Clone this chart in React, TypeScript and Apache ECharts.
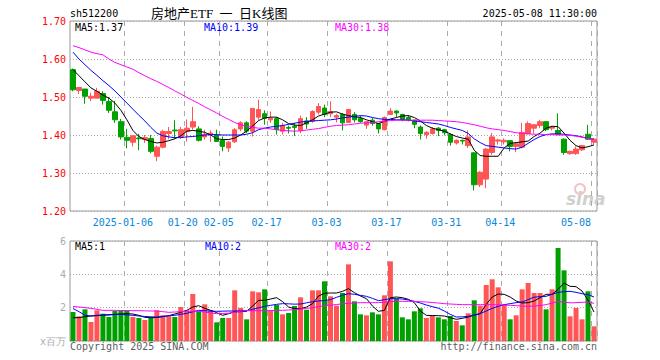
import React, { useEffect, useRef } from "react";
import * as echarts from "echarts";

const dates = [
  "2024-12-23", "2024-12-24", "2024-12-25", "2024-12-26", "2024-12-27", "2024-12-30", "2024-12-31", "2025-01-02", "2025-01-03",
  "2025-01-06", "2025-01-07", "2025-01-08", "2025-01-09", "2025-01-10",
  "2025-01-13", "2025-01-14", "2025-01-15", "2025-01-16", "2025-01-17",
  "2025-01-20", "2025-01-21", "2025-01-22", "2025-01-23", "2025-01-24", "2025-01-27",
  "2025-02-05", "2025-02-06", "2025-02-07",
  "2025-02-10", "2025-02-11", "2025-02-12", "2025-02-13", "2025-02-14",
  "2025-02-17", "2025-02-18", "2025-02-19", "2025-02-20", "2025-02-21",
  "2025-02-24", "2025-02-25", "2025-02-26", "2025-02-27", "2025-02-28",
  "2025-03-03", "2025-03-04", "2025-03-05", "2025-03-06", "2025-03-07",
  "2025-03-10", "2025-03-11", "2025-03-12", "2025-03-13", "2025-03-14",
  "2025-03-17", "2025-03-18", "2025-03-19", "2025-03-20", "2025-03-21",
  "2025-03-24", "2025-03-25", "2025-03-26", "2025-03-27", "2025-03-28",
  "2025-03-31", "2025-04-01", "2025-04-02", "2025-04-03",
  "2025-04-07", "2025-04-08", "2025-04-09", "2025-04-10", "2025-04-11",
  "2025-04-14", "2025-04-15", "2025-04-16", "2025-04-17", "2025-04-18",
  "2025-04-21", "2025-04-22", "2025-04-23", "2025-04-24", "2025-04-25",
  "2025-04-28", "2025-04-29", "2025-04-30",
  "2025-05-06", "2025-05-07", "2025-05-08",
];

const tickDates = ["2025-01-06", "2025-01-20", "2025-02-05", "2025-02-17", "2025-03-03", "2025-03-17", "2025-03-31", "2025-04-14", "2025-05-08"];

const openP = [
  1.572, 1.517, 1.521, 1.497, 1.497, 1.509, 1.488, 1.461, 1.435, 1.394,
  1.381, 1.392, 1.388, 1.391, 1.344, 1.368, 1.404, 1.413, 1.396, 1.410,
  1.421, 1.416, 1.395, 1.400, 1.400, 1.386, 1.366, 1.382, 1.416, 1.432,
  1.410, 1.447, 1.456, 1.440, 1.443, 1.410, 1.420, 1.423, 1.412, 1.437,
  1.436, 1.460, 1.471, 1.456, 1.447, 1.454, 1.433, 1.454, 1.443, 1.426,
  1.439, 1.430, 1.414, 1.454, 1.463, 1.454, 1.446, 1.439, 1.421, 1.401,
  1.404, 1.418, 1.414, 1.401, 1.379, 1.386, 1.372, 1.353, 1.269, 1.284,
  1.354, 1.384, 1.382, 1.385, 1.370, 1.368, 1.404, 1.418, 1.425, 1.435,
  1.418, 1.412, 1.389, 1.351, 1.351, 1.361, 1.402, 1.381,
];
const closeP = [
  1.519, 1.525, 1.502, 1.502, 1.515, 1.491, 1.465, 1.440, 1.395, 1.386,
  1.398, 1.390, 1.393, 1.357, 1.368, 1.409, 1.409, 1.411, 1.414, 1.418,
  1.435, 1.386, 1.402, 1.405, 1.383, 1.370, 1.381, 1.414, 1.432, 1.410,
  1.470, 1.467, 1.444, 1.444, 1.414, 1.425, 1.418, 1.420, 1.443, 1.429,
  1.462, 1.475, 1.454, 1.462, 1.451, 1.432, 1.467, 1.440, 1.435, 1.435,
  1.430, 1.416, 1.446, 1.463, 1.458, 1.440, 1.440, 1.428, 1.404, 1.407,
  1.416, 1.412, 1.406, 1.381, 1.386, 1.384, 1.395, 1.269, 1.302, 1.363,
  1.395, 1.387, 1.386, 1.370, 1.377, 1.407, 1.430, 1.427, 1.435, 1.414,
  1.421, 1.402, 1.354, 1.357, 1.363, 1.372, 1.389, 1.389,
];
const lowP = [
  1.515, 1.508, 1.482, 1.489, 1.497, 1.480, 1.458, 1.432, 1.388, 1.365,
  1.370, 1.360, 1.379, 1.352, 1.331, 1.365, 1.389, 1.390, 1.390, 1.383,
  1.414, 1.383, 1.388, 1.382, 1.382, 1.357, 1.355, 1.379, 1.410, 1.405,
  1.396, 1.440, 1.427, 1.432, 1.401, 1.401, 1.404, 1.397, 1.405, 1.416,
  1.432, 1.454, 1.447, 1.447, 1.433, 1.412, 1.432, 1.433, 1.432, 1.416,
  1.425, 1.404, 1.412, 1.452, 1.447, 1.436, 1.436, 1.418, 1.388, 1.390,
  1.401, 1.397, 1.399, 1.372, 1.375, 1.375, 1.366, 1.254, 1.263, 1.260,
  1.348, 1.375, 1.375, 1.357, 1.355, 1.365, 1.401, 1.404, 1.418, 1.410,
  1.412, 1.400, 1.348, 1.348, 1.348, 1.358, 1.387, 1.375,
];
const highP = [
  1.575, 1.525, 1.521, 1.511, 1.524, 1.515, 1.500, 1.490, 1.442, 1.416,
  1.398, 1.403, 1.400, 1.400, 1.372, 1.414, 1.421, 1.439, 1.421, 1.441,
  1.474, 1.423, 1.414, 1.412, 1.414, 1.396, 1.384, 1.418, 1.436, 1.436,
  1.471, 1.493, 1.465, 1.462, 1.447, 1.432, 1.425, 1.432, 1.451, 1.447,
  1.465, 1.484, 1.480, 1.489, 1.456, 1.458, 1.469, 1.460, 1.451, 1.436,
  1.445, 1.432, 1.449, 1.471, 1.465, 1.456, 1.452, 1.440, 1.425, 1.410,
  1.421, 1.421, 1.416, 1.404, 1.389, 1.388, 1.412, 1.354, 1.305, 1.366,
  1.405, 1.390, 1.391, 1.386, 1.381, 1.432, 1.436, 1.429, 1.440, 1.436,
  1.424, 1.457, 1.391, 1.359, 1.370, 1.374, 1.427, 1.391,
];

const ma5Price = [
  1.572, 1.556, 1.540, 1.524, 1.515, 1.505, 1.497, 1.484, 1.465, 1.440,
  1.412, 1.396, 1.388, 1.383, 1.379, 1.381, 1.385, 1.390, 1.398, 1.410,
  1.412, 1.410, 1.407, 1.400, 1.390, 1.388, 1.388, 1.392, 1.400, 1.410,
  1.424, 1.438, 1.445, 1.447, 1.447, 1.440, 1.430, 1.426, 1.425, 1.432,
  1.440, 1.450, 1.455, 1.460, 1.461, 1.455, 1.451, 1.448, 1.446, 1.440,
  1.435, 1.430, 1.436, 1.442, 1.446, 1.450, 1.451, 1.446, 1.437, 1.425,
  1.418, 1.414, 1.410, 1.403, 1.396, 1.392, 1.389, 1.360, 1.346, 1.344,
  1.344, 1.344, 1.366, 1.378, 1.380, 1.382, 1.384, 1.396, 1.405, 1.418,
  1.423, 1.422, 1.405, 1.386, 1.372, 1.366, 1.369, 1.374,
];
const ma10Price = [
  1.618, 1.600, 1.585, 1.570, 1.557, 1.543, 1.530, 1.516, 1.500, 1.484,
  1.468, 1.452, 1.437, 1.420, 1.405, 1.398, 1.395, 1.393, 1.393, 1.395,
  1.396, 1.398, 1.400, 1.401, 1.401, 1.400, 1.400, 1.400, 1.400, 1.402,
  1.406, 1.414, 1.418, 1.421, 1.423, 1.425, 1.428, 1.431, 1.434, 1.436,
  1.437, 1.438, 1.439, 1.440, 1.442, 1.445, 1.447, 1.449, 1.451, 1.450,
  1.446, 1.443, 1.441, 1.441, 1.440, 1.440, 1.439, 1.437, 1.435, 1.433,
  1.431, 1.429, 1.425, 1.420, 1.416, 1.412, 1.404, 1.390, 1.380, 1.372,
  1.370, 1.368, 1.366, 1.364, 1.363, 1.368, 1.378, 1.388, 1.396, 1.401,
  1.403, 1.403, 1.402, 1.400, 1.398, 1.395, 1.391, 1.389,
];
const ma30Price = [
  1.635, 1.630, 1.624, 1.618, 1.614, 1.611, 1.600, 1.591, 1.585, 1.579,
  1.573, 1.564, 1.556, 1.548, 1.541, 1.533, 1.525, 1.516, 1.508, 1.499,
  1.491, 1.483, 1.474, 1.466, 1.458, 1.449, 1.441, 1.433, 1.427, 1.423,
  1.420, 1.418, 1.418, 1.416, 1.414, 1.412, 1.411, 1.410, 1.411, 1.413,
  1.415, 1.417, 1.420, 1.423, 1.425, 1.426, 1.427, 1.429, 1.431, 1.432,
  1.433, 1.435, 1.436, 1.438, 1.439, 1.439, 1.439, 1.439, 1.439, 1.439,
  1.439, 1.438, 1.437, 1.436, 1.435, 1.433, 1.430, 1.427, 1.423, 1.419,
  1.416, 1.414, 1.412, 1.409, 1.406, 1.404, 1.403, 1.402, 1.402, 1.401,
  1.401, 1.400, 1.400, 1.399, 1.397, 1.394, 1.391, 1.388,
];

const volume = [
  1.74, 1.48, 1.90, 1.14, 1.84, 1.64, 1.44, 1.80, 1.84, 1.80,
  1.44, 1.38, 1.26, 1.44, 1.84, 1.54, 1.48, 1.44, 2.04, 1.84,
  2.82, 1.78, 2.20, 1.84, 1.12, 1.38, 1.38, 3.04, 1.98, 1.30,
  2.98, 2.92, 3.10, 1.84, 2.16, 1.60, 1.68, 2.10, 2.62, 1.88,
  3.04, 3.04, 3.58, 2.68, 2.12, 2.88, 4.60, 2.38, 1.60, 1.54,
  1.72, 1.60, 2.74, 4.78, 2.54, 1.42, 1.30, 1.78, 1.96, 1.38,
  1.54, 1.42, 1.30, 1.50, 1.20, 0.94, 1.66, 2.44, 2.12, 3.36,
  3.70, 3.22, 2.20, 1.30, 1.54, 3.10, 3.48, 2.88, 2.88, 1.90,
  3.10, 5.58, 4.24, 1.48, 1.98, 1.30, 2.98, 0.88,
];
const ma5Vol = [
  1.40, 1.40, 1.46, 1.50, 1.54, 1.56, 1.58, 1.60, 1.62, 1.64,
  1.62, 1.54, 1.42, 1.40, 1.41, 1.46, 1.52, 1.62, 1.72, 1.84,
  2.04, 2.12, 1.96, 1.84, 1.70, 1.54, 1.64, 1.75, 1.76, 1.78,
  2.10, 2.44, 2.44, 2.52, 2.60, 2.36, 2.04, 1.94, 1.94, 2.04,
  2.24, 2.70, 2.86, 2.88, 2.88, 2.98, 3.14, 2.90, 2.70, 2.54,
  2.10, 1.78, 1.84, 2.60, 2.64, 2.60, 2.50, 2.30, 1.80, 1.54,
  1.53, 1.52, 1.50, 1.40, 1.30, 1.36, 1.44, 1.55, 1.64, 2.20,
  2.64, 2.82, 2.80, 2.64, 2.40, 2.28, 2.30, 2.40, 2.60, 2.80,
  2.80, 3.10, 3.48, 3.28, 3.26, 3.00, 2.45, 1.74,
];
const ma10Vol = [
  1.95, 1.76, 1.55, 1.50, 1.52, 1.54, 1.56, 1.59, 1.60, 1.57,
  1.54, 1.50, 1.47, 1.45, 1.44, 1.48, 1.51, 1.54, 1.60, 1.66,
  1.75, 1.84, 1.82, 1.79, 1.78, 1.79, 1.80, 1.80, 1.81, 1.82,
  1.90, 1.99, 2.08, 2.14, 2.20, 2.24, 2.23, 2.21, 2.22, 2.29,
  2.36, 2.40, 2.43, 2.48, 2.62, 2.74, 2.84, 2.80, 2.74, 2.68,
  2.56, 2.42, 2.48, 2.54, 2.54, 2.52, 2.46, 2.38, 2.28, 2.16,
  2.06, 1.97, 1.80, 1.60, 1.44, 1.45, 1.48, 1.56, 1.64, 1.80,
  1.96, 2.08, 2.18, 2.24, 2.30, 2.34, 2.48, 2.63, 2.66, 2.68,
  2.80, 2.92, 2.96, 2.98, 2.92, 2.84, 2.78, 2.64,
];
const ma30Vol = [
  2.07, 2.04, 2.00, 1.96, 1.90, 1.84, 1.84, 1.84, 1.83, 1.83,
  1.82, 1.82, 1.81, 1.80, 1.80, 1.76, 1.72, 1.74, 1.76, 1.78,
  1.78, 1.78, 1.74, 1.68, 1.64, 1.65, 1.67, 1.72, 1.78, 1.82,
  1.82, 1.82, 1.82, 1.83, 1.84, 1.84, 1.86, 1.88, 1.92, 1.96,
  2.00, 2.06, 2.12, 2.15, 2.19, 2.23, 2.26, 2.28, 2.30, 2.30,
  2.30, 2.30, 2.33, 2.36, 2.38, 2.38, 2.38, 2.37, 2.36, 2.34,
  2.31, 2.28, 2.24, 2.22, 2.20, 2.18, 2.18, 2.18, 2.18, 2.18,
  2.18, 2.17, 2.16, 2.14, 2.12, 2.10, 2.08, 2.10, 2.13, 2.18,
  2.28, 2.36, 2.34, 2.29, 2.30, 2.32, 2.34, 2.26,
];

const UP = "#ff5555";
const DOWN = "#00a000";
const MONO = "'DejaVu Sans Mono', 'Liberation Mono', monospace";

function txt(text: string, x: number, y: number, fill: string, opts: any = {}) {
  const align = opts.align || "left";
  return {
    type: "text",
    x,
    y,
    silent: true,
    style: {
      text,
      fill,
      fontSize: opts.fontSize || 10,
      fontFamily: opts.fontFamily || MONO,
      fontWeight: opts.fontWeight || "normal",
      fontStyle: opts.fontStyle || "normal",
      align,
      textAlign: align,
      verticalAlign: "middle",
      textVerticalAlign: "middle",
    },
  };
}

export default function App() {
  const ref = useRef<HTMLDivElement>(null);
  useEffect(() => {
    const chart = echarts.init(ref.current!, null, { renderer: "svg" });
    const tickSet = new Set(tickDates);
    const candleData = dates.map((_, i) => [openP[i], closeP[i], lowP[i], highP[i]]);
    const volData = volume.map((v, i) => ({
      value: v,
      itemStyle: { color: closeP[i] >= openP[i] ? UP : DOWN },
    }));
    const lastTick = tickDates[tickDates.length - 1];
    const firstTick = tickDates[0];
    const xSplit = {
      show: true,
      interval: (_idx: number, v: string) => tickSet.has(v),
      lineStyle: { color: "#aaaaaa", type: [5, 5], width: 1 },
    };
    const ySplit = { show: true, lineStyle: { color: "#aaaaaa", type: [1, 2], width: 1 } };
    const lineSeries = (name: string, data: number[], color: string, axis: number) => ({
      name,
      type: "line",
      data,
      xAxisIndex: axis,
      yAxisIndex: axis,
      symbol: "none",
      showSymbol: false,
      silent: true,
      lineStyle: { color, width: 1 },
      itemStyle: { color },
      z: 5,
    });
    const option: any = {
      animation: false,
      backgroundColor: "#ffffff",
      grid: [
        { left: 70, right: 63, top: 21, height: 190, show: true, borderColor: "#999999", borderWidth: 1, backgroundColor: "transparent", outerBoundsMode: "none" },
        { left: 70, right: 63, top: 241, height: 100, show: true, borderColor: "#999999", borderWidth: 1, backgroundColor: "transparent", outerBoundsMode: "none" },
      ],
      xAxis: [
        {
          type: "category",
          gridIndex: 0,
          data: dates,
          boundaryGap: true,
          axisLine: { show: false },
          axisTick: { show: false },
          splitLine: xSplit,
          axisLabel: {
            show: true,
            interval: (_idx: number, v: string) => tickSet.has(v),
            margin: 6,
            formatter: (v: string) =>
              v === lastTick ? `{e|${v.slice(5)}}` : `{n|${v === firstTick ? v : v.slice(5)}}`,
            rich: {
              n: { padding: [0, 8, 0, 0], color: "#0a88d8", fontSize: 10, fontFamily: MONO },
              e: { padding: [0, 36, 0, 0], color: "#0a88d8", fontSize: 10, fontFamily: MONO },
            },
          },
        },
        {
          type: "category",
          gridIndex: 1,
          data: dates,
          boundaryGap: true,
          axisLine: { show: false },
          axisTick: { show: false },
          axisLabel: { show: false },
          splitLine: xSplit,
        },
      ],
      yAxis: [
        {
          type: "value",
          gridIndex: 0,
          min: 1.2,
          max: 1.7,
          interval: 0.1,
          axisLine: { show: false },
          axisTick: { show: false },
          splitLine: ySplit,
          axisLabel: {
            color: "#ff0000",
            fontSize: 10,
            fontFamily: MONO,
            margin: 4,
            formatter: (v: number) => v.toFixed(2),
          },
        },
        {
          type: "value",
          gridIndex: 1,
          min: 0,
          max: 6,
          interval: 2,
          axisLine: { show: false },
          axisTick: { show: false },
          splitLine: ySplit,
          axisLabel: {
            color: "#aaaaaa",
            fontSize: 10,
            fontFamily: MONO,
            margin: 4,
            formatter: (v: number) => (v === 0 ? "x百万" : String(v)),
          },
        },
      ],
      series: [
        {
          type: "candlestick",
          xAxisIndex: 0,
          yAxisIndex: 0,
          data: candleData,
          barWidth: 5,
          silent: true,
          itemStyle: { color: UP, color0: DOWN, borderColor: UP, borderColor0: DOWN, borderWidth: 1 },
          z: 3,
        },
        lineSeries("MA5", ma5Price, "#000000", 0),
        lineSeries("MA10", ma10Price, "#0000ff", 0),
        lineSeries("MA30", ma30Price, "#ff00ff", 0),
        {
          type: "bar",
          xAxisIndex: 1,
          yAxisIndex: 1,
          data: volData,
          barWidth: 5,
          silent: true,
          z: 3,
        },
        lineSeries("VMA5", ma5Vol, "#000000", 1),
        lineSeries("VMA10", ma10Vol, "#0000ff", 1),
        lineSeries("VMA30", ma30Vol, "#ff00ff", 1),
      ],
      graphic: [
        txt("sh512200", 70, 13, "#000000"),
        txt("房地产ETF  一  日K线图", 151, 13, "#000000", { fontSize: 13, fontFamily: "'Liberation Serif', 'Noto Sans CJK SC', serif" }),
        txt("2025-05-08 11:30:00", 597, 13, "#000000", { align: "right" }),
        txt("MA5:1.37", 75, 27, "#000000"),
        txt("MA10:1.39", 204, 27, "#0000ff"),
        txt("MA30:1.38", 335, 27, "#ff00ff"),
        txt("MA5:1", 75, 246, "#000000"),
        txt("MA10:2", 205, 246, "#0000ff"),
        txt("MA30:2", 335, 246, "#ff00ff"),
        txt("Copyright 2025 SINA.COM", 70, 346, "#606060"),
        txt("http://finance.sina.com.cn", 597, 346, "#606060", { align: "right" }),
        {
          type: "circle",
          silent: true,
          shape: { cx: 580, cy: 189, r: 5 },
          style: { fill: "none", stroke: "#f0c4c4", lineWidth: 2 },
        },
        txt("sina", 566, 199, "#d0d0d0", { fontSize: 17, fontFamily: "'DejaVu Sans', sans-serif", fontWeight: "bold", fontStyle: "italic" }),
      ],
    };
    chart.setOption(option);
    return () => chart.dispose();
  }, []);
  return <div ref={ref} style={{ position: "fixed", left: 0, top: 0, width: 660, height: 360 }} />;
}
